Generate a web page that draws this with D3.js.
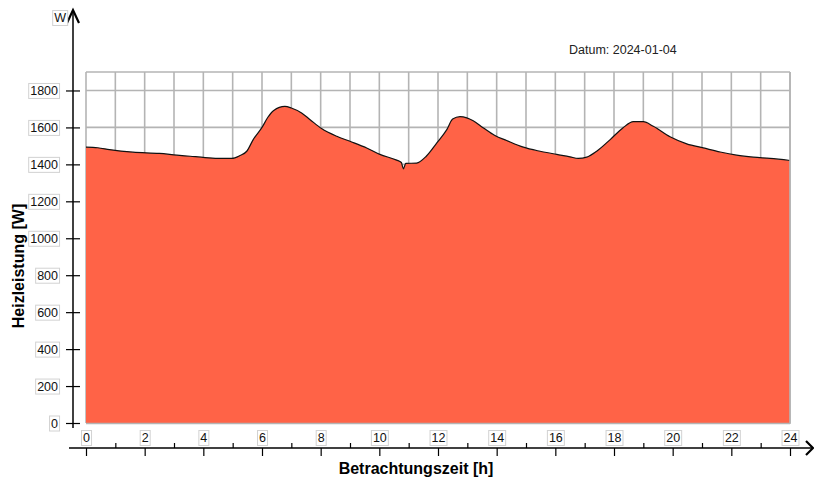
<!DOCTYPE html>
<html>
<head>
<meta charset="utf-8">
<script src="https://cdn.jsdelivr.net/npm/d3@7"></script>
<style>
  html, body { margin: 0; padding: 0; background: #fff; }
  svg { display: block; font-family: Arial, "Liberation Sans", sans-serif; }
</style>
</head>
<body>
<svg id="chart" width="814" height="482"></svg>
<script>
// Heating power over the day (hour of day -> watts)
const hours = [0, 0.4, 0.8, 1.6, 2.5, 3.1, 3.55, 4.06, 4.57, 4.97, 5.25, 5.48, 5.7, 6.0, 6.2, 6.4, 6.78, 7.0, 7.35, 7.64,
  8.03, 8.55, 9.0, 9.57, 10.02, 10.59, 10.75, 10.82, 10.9, 11.27, 11.6, 11.96, 12.3, 12.5, 12.75, 12.98, 13.2, 13.55, 13.94,
  14.34, 14.91, 15.48, 16.05, 16.5, 16.78, 17.07, 17.41, 17.87, 18.3, 18.66, 19.0, 19.34, 19.91, 20.48, 21.05, 21.62,
  22.18, 22.75, 23.32, 24];
const heatW = [1493, 1490, 1480, 1466, 1459, 1450, 1444, 1437, 1432, 1432, 1448, 1471, 1534, 1600, 1655, 1692, 1714, 1705, 1678, 1642,
  1594, 1552, 1525, 1489, 1454, 1423, 1410, 1376, 1405, 1407, 1444, 1516, 1588, 1645, 1658, 1652, 1636, 1597, 1556,
  1529, 1493, 1471, 1454, 1441, 1432, 1439, 1471, 1534, 1597, 1631, 1631, 1606, 1549, 1511, 1489, 1467,
  1450, 1439, 1432, 1421];
const xTicks = d3.range(0, 25, 1);          // every hour; labels on even hours
const yTicks = d3.range(0, 1801, 200);
const yMax = 1900;
const dateLabel = "Datum: 2024-01-04";
const xTitle = "Betrachtungszeit [h]";
const yTitle = "Heizleistung [W]";
const yUnit = "W";

const svg = d3.select("#chart");
const plot = { left: 86, right: 790, top: 72, bottom: 423 };
const x = d3.scaleLinear().domain([0, 24]).range([plot.left, plot.right]);
const y = d3.scaleLinear().domain([0, yMax]).range([plot.bottom, plot.top]);

const gridColor = "#b4b4b4";

// grid
const grid = svg.append("g");
grid.selectAll("line.v").data(xTicks).join("line")
  .attr("x1", d => x(d)).attr("x2", d => x(d))
  .attr("y1", plot.top).attr("y2", plot.bottom)
  .attr("stroke", gridColor).attr("stroke-width", 1.6);
grid.selectAll("line.h").data(yTicks.concat([yMax])).join("line")
  .attr("x1", plot.left).attr("x2", plot.right)
  .attr("y1", d => y(d)).attr("y2", d => y(d))
  .attr("stroke", gridColor).attr("stroke-width", 1.6);

// filled area + outline
const pts = hours.map((h, i) => [h, heatW[i]]);
const curve = d3.curveMonotoneX;
svg.append("path").datum(pts)
  .attr("fill", "#ff6347")
  .attr("d", d3.area().curve(curve).x(d => x(d[0])).y0(y(0)).y1(d => y(d[1])));
svg.append("path").datum(pts)
  .attr("fill", "none").attr("stroke", "#111").attr("stroke-width", 1.2)
  .attr("d", d3.line().curve(curve).x(d => x(d[0])).y(d => y(d[1])));

// plot frame edges that stay visible
svg.append("line").attr("x1", plot.left).attr("x2", plot.right)
  .attr("y1", plot.bottom + 0.5).attr("y2", plot.bottom + 0.5)
  .attr("stroke", gridColor).attr("stroke-width", 1.6);
svg.append("line").attr("x1", plot.right).attr("x2", plot.right)
  .attr("y1", plot.top).attr("y2", plot.bottom + 1)
  .attr("stroke", gridColor).attr("stroke-width", 1.6);

// boxed label helper
function boxLabels(sel) {
  sel.each(function () {
    const b = this.getBBox();
    d3.select(this.parentNode).insert("rect", "text")
      .attr("x", b.x - 1.5).attr("y", b.y - 0.5)
      .attr("width", b.width + 3).attr("height", b.height + 1)
      .attr("fill", "#fff").attr("stroke", "#d2d2d2").attr("stroke-width", 1);
  });
}

// Y axis
const axisX = 73;
const yAxisG = svg.append("g").attr("transform", `translate(${axisX},0)`)
  .call(d3.axisLeft(y).tickValues(yTicks).tickSize(7).tickPadding(8).tickFormat(d3.format("d")));
yAxisG.select(".domain").remove();
yAxisG.selectAll(".tick line").attr("x1", 7).attr("x2", -7).attr("stroke", "#000").attr("stroke-width", 1.2);
yAxisG.selectAll(".tick text").attr("font-size", 12.5).attr("fill", "#111").attr("font-family", "Arial, 'Liberation Sans', sans-serif");
boxLabels(yAxisG.selectAll(".tick text"));

svg.append("line").attr("x1", axisX).attr("x2", axisX).attr("y1", 428).attr("y2", 11)
  .attr("stroke", "#000").attr("stroke-width", 1.5);
svg.append("path").attr("d", `M${axisX - 6},23 L${axisX},10 L${axisX + 6},23`)
  .attr("fill", "none").attr("stroke", "#000").attr("stroke-width", 2.2);

// unit label on y axis
const unitG = svg.append("g");
unitG.append("text").attr("x", 66).attr("y", 22).attr("text-anchor", "end")
  .attr("font-size", 12.5).attr("fill", "#111").text(yUnit);
boxLabels(unitG.selectAll("text"));

// X axis
const axisY = 448;
const xAxisG = svg.append("g").attr("transform", `translate(0,${axisY})`)
  .call(d3.axisBottom(x).tickValues(xTicks).tickSize(8)
    .tickFormat(d => d % 2 === 0 ? d : ""));
xAxisG.select(".domain").remove();
xAxisG.selectAll(".tick line")
  .attr("y1", d => d % 2 === 0 ? 0 : -5)
  .attr("y2", d => d % 2 === 0 ? 8 : 0)
  .attr("stroke", "#000").attr("stroke-width", 1.2);
xAxisG.selectAll(".tick text").attr("y", -6).attr("dy", 0)
  .attr("font-size", 12.5).attr("fill", "#111").attr("font-family", "Arial, 'Liberation Sans', sans-serif");
xAxisG.selectAll(".tick text").filter(d => d % 2 !== 0).remove();
boxLabels(xAxisG.selectAll(".tick text"));

svg.append("line").attr("x1", 69).attr("x2", 812).attr("y1", axisY).attr("y2", axisY)
  .attr("stroke", "#000").attr("stroke-width", 1.5);
svg.append("path").attr("d", `M806,441 L813,448 L806,455`)
  .attr("fill", "none").attr("stroke", "#000").attr("stroke-width", 2.2);

// titles
svg.append("text").attr("x", 416).attr("y", 474).attr("text-anchor", "middle")
  .attr("font-size", 16).attr("font-weight", "bold").attr("fill", "#000").text(xTitle);
svg.append("text").attr("transform", "translate(24,266) rotate(-90)").attr("text-anchor", "middle")
  .attr("font-size", 16).attr("font-weight", "bold").attr("fill", "#000").text(yTitle);

// date annotation
svg.append("text").attr("x", 569).attr("y", 54)
  .attr("font-size", 12.5).attr("fill", "#222").text(dateLabel);
</script>
</body>
</html>
